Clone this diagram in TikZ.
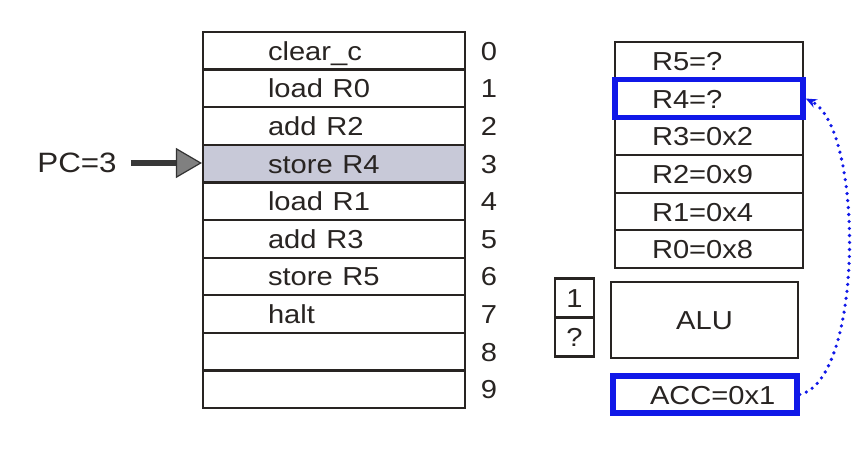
\documentclass[tikz,border=0pt]{standalone}
\usepackage{graphicx}
\usepackage{fontspec}
\setmainfont{Liberation Sans}
\usetikzlibrary{arrows.meta}
\definecolor{accblue}{RGB}{16,24,232}
\definecolor{framec}{RGB}{40,36,34}
\definecolor{shadec}{RGB}{200,201,216}
\newcommand{\stx}[1]{\scalebox{1.12}[1]{#1}}
\begin{document}
\begin{tikzpicture}[x=1pt,y=-1pt,
  every node/.style={font=\fontsize{26}{30}\selectfont, text height=19pt, text depth=0pt, text=framec},
  memrow/.style={draw=framec, line width=2.2pt, minimum width=262pt, minimum height=37.6pt,
    text width=132pt, inner xsep=65pt, inner ysep=0pt, align=left},
  regrow/.style={draw=framec, line width=2.2pt, minimum width=188pt, minimum height=37.67pt,
    text width=114pt, inner xsep=37pt, inner ysep=0pt, align=left},
  hilite/.style={draw=accblue, line width=5.5pt},
  addr/.style={inner sep=0pt},
  smallbox/.style={draw=framec, line width=2.2pt, minimum width=39pt, minimum height=39pt, inner sep=0pt},
  pcarrow/.style={line width=6pt, draw=black!78, shorten <=14pt,
    -{Triangle[length=26pt,width=30pt,fill=black!50,color=black!80,line width=1.2pt]}},
  linkarrow/.style={accblue, line width=3.6pt, line cap=round, dash pattern=on 0pt off 7pt,
    -{Stealth[length=11pt,width=9pt]}}
]
\useasboundingbox (0,0) rectangle (865,452);
\fill[white] (0,0) rectangle (865,452);

% memory
\node[memrow] (m0) at (334,50.8) {\stx{clear\_c}};
\node[memrow] (m1) at (334,88.4) {\stx{load R0}};
\node[memrow] (m2) at (334,126) {\stx{add R2}};
\node[memrow, fill=shadec] (m3) at (334,163.6) {\stx{store R4}};
\node[memrow] (m4) at (334,201.2) {\stx{load R1}};
\node[memrow] (m5) at (334,238.8) {\stx{add R3}};
\node[memrow] (m6) at (334,276.4) {\stx{store R5}};
\node[memrow] (m7) at (334,314) {\stx{halt}};
\node[memrow] (m8) at (334,351.6) {};
\node[memrow] (m9) at (334,389.2) {};

% addresses
\node[addr] (d0) at (489,50.8) {\stx{0}};
\node[addr] (d1) at (489,88.4) {\stx{1}};
\node[addr] (d2) at (489,126) {\stx{2}};
\node[addr] (d3) at (489,163.6) {\stx{3}};
\node[addr] (d4) at (489,201.2) {\stx{4}};
\node[addr] (d5) at (489,238.8) {\stx{5}};
\node[addr] (d6) at (489,276.4) {\stx{6}};
\node[addr] (d7) at (489,314) {\stx{7}};
\node[addr] (d8) at (489,351.6) {\stx{8}};
\node[addr] (d9) at (489,389.2) {\stx{9}};

% PC
\node[font=\fontsize{28}{32}\selectfont, inner xsep=0pt] (pc) at (77,163) {\stx{PC=3}};
\draw[pcarrow] (pc.east) -- (pc.east -| m3.west);

% registers
\node[regrow] (r5) at (709,60.8) {\stx{R5=?}};
\node[regrow] (r3) at (709,136.2) {\stx{R3=0x2}};
\node[regrow] (r2) at (709,173.8) {\stx{R2=0x9}};
\node[regrow] (r1) at (709,211.5) {\stx{R1=0x4}};
\node[regrow] (r0) at (709,249.2) {\stx{R0=0x8}};
\node[regrow, hilite] (r4) at (709,98.5) {\stx{R4=?}};

% ALU and operands
\node[smallbox] (op1) at (574.5,298) {\stx{1}};
\node[smallbox] (op2) at (574.5,337) {\stx{?}};
\node[draw=framec, line width=2.2pt, minimum width=187pt, minimum height=76pt] (alu) at (704.5,320) {\stx{ALU}};

% accumulator
\node[hilite, minimum width=184pt, minimum height=37pt, text width=110pt, inner xsep=37pt, inner ysep=0pt, align=left] (acc) at (705,394.5) {\stx{ACC=0x1}};

% link
\draw[linkarrow] (acc.east) .. controls (864,380) and (864,128) .. (r4.east);
\end{tikzpicture}
\end{document}
